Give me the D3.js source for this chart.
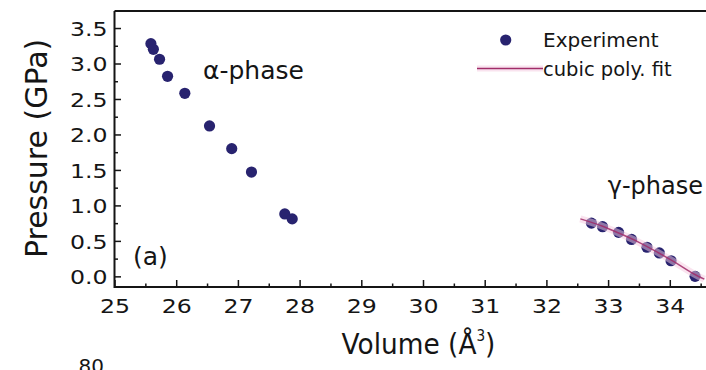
<!DOCTYPE html>
<html>
<head>
<meta charset="utf-8">
<script src="https://cdn.jsdelivr.net/npm/d3@7"></script>
<style>
  html, body { margin: 0; padding: 0; background: #fff; }
  svg { display: block; font-family: "DejaVu Sans", sans-serif; }
</style>
</head>
<body>
<svg id="chart" width="706" height="370"></svg>
<script>
// α-phase measurements: volume (Å^3) and pressure (GPa)
const alphaVolume   = [25.59, 25.63, 25.73, 25.86, 26.14, 26.54, 26.90, 27.22, 27.76, 27.88];
const alphaPressure = [3.28, 3.20, 3.06, 2.82, 2.58, 2.12, 1.80, 1.47, 0.88, 0.81];

// γ-phase measurements
const gammaVolume   = [32.73, 32.91, 33.17, 33.38, 33.63, 33.83, 34.02, 34.41];
const gammaPressure = [0.75, 0.70, 0.62, 0.52, 0.41, 0.33, 0.22, 0.00];

// cubic polynomial fit through the γ-phase data
const fitVolume   = [32.55, 32.90, 33.20, 33.50, 33.80, 34.10, 34.40, 34.56];
const fitPressure = [0.81, 0.71, 0.60, 0.48, 0.34, 0.19, 0.03, -0.04];

const xTicks = [25, 26, 27, 28, 29, 30, 31, 32, 33, 34];
const yTicks = [0.0, 0.5, 1.0, 1.5, 2.0, 2.5, 3.0, 3.5];

const markerColor = "#28236f";
const fitColor = "#a02c68";
const inkColor = "#151515";
const FONT = "DejaVu Sans, sans-serif";

const svg = d3.select("#chart");
svg.append("rect").attr("width", 706).attr("height", 370).attr("fill", "#fff");

const plotLeft = 114.5, plotTop = 11, plotBottom = 287;
const x = d3.scaleLinear().domain([25, 34.8]).range([plotLeft, plotLeft + 9.8 * 61.7]);
const y = d3.scaleLinear().domain([-0.15, 3.74]).range([plotBottom, plotTop]);

// inward ticks: majors labelled, minors in between
const xMinor = d3.range(25.5, 35, 1);
const yMinor = d3.range(0.25, 3.75, 0.5);
const tickFontSize = 20, tickStretch = 1.18;

const gx = svg.append("g").attr("transform", `translate(0,${plotBottom})`);
gx.call(d3.axisBottom(x).tickValues(xMinor).tickSize(-3.5).tickFormat(""));
gx.select(".domain").remove();
const gxMaj = svg.append("g").attr("transform", `translate(0,${plotBottom})`)
  .call(d3.axisBottom(x).tickValues(xTicks).tickSize(-7).tickFormat(d3.format("d")));
gxMaj.select(".domain").remove();
gxMaj.selectAll("text")
  .attr("font-size", tickFontSize).attr("font-family", FONT).attr("fill", inkColor)
  .attr("y", 26).attr("dy", 0)
  .attr("transform", `scale(${tickStretch},1)`);

const gy = svg.append("g").attr("transform", `translate(${plotLeft},0)`);
gy.call(d3.axisLeft(y).tickValues(yMinor).tickSize(-3.5).tickFormat(""));
gy.select(".domain").remove();
const gyMaj = svg.append("g").attr("transform", `translate(${plotLeft},0)`)
  .call(d3.axisLeft(y).tickValues(yTicks).tickSize(-6.5).tickFormat(d3.format(".1f")));
gyMaj.select(".domain").remove();
gyMaj.selectAll("text")
  .attr("font-size", tickFontSize).attr("font-family", FONT).attr("fill", inkColor)
  .attr("x", -7 / tickStretch).attr("dy", "0.36em")
  .attr("transform", `scale(${tickStretch},1)`);

svg.selectAll(".tick line").attr("stroke", inkColor).attr("stroke-width", 1.5);

// frame: left, bottom and top borders
svg.append("path")
  .attr("d", `M${plotLeft},${plotTop}H720M${plotLeft},${plotTop}V${plotBottom}H720`)
  .attr("fill", "none").attr("stroke", inkColor).attr("stroke-width", 2);

const plot = svg.append("g");

// markers
const pts = alphaVolume.map((v, i) => [v, alphaPressure[i]])
  .concat(gammaVolume.map((v, i) => [v, gammaPressure[i]]));
plot.selectAll("circle.exp").data(pts).join("circle")
  .attr("class", "exp")
  .attr("cx", d => x(d[0])).attr("cy", d => y(d[1]))
  .attr("r", 5.6).attr("fill", markerColor);

// fit curve drawn over the γ-phase markers
const fitPts = fitVolume.map((v, i) => [v, fitPressure[i]]);
const line = d3.line().x(d => x(d[0])).y(d => y(d[1])).curve(d3.curveMonotoneX);
plot.append("path").attr("d", line(fitPts))
  .attr("fill", "none").attr("stroke", "#f5c9e0").attr("stroke-width", 7).attr("opacity", 0.5);
plot.append("path").attr("d", line(fitPts))
  .attr("fill", "none").attr("stroke", fitColor).attr("stroke-width", 1.5).attr("opacity", 0.85);

// annotations
const txt = (tx, ty, s, size, anchor) => svg.append("text")
  .attr("x", tx).attr("y", ty).attr("font-size", size).attr("font-family", FONT)
  .attr("fill", inkColor).attr("text-anchor", anchor || "start").text(s);

txt(203, 79, "α-phase", 25);
txt(703, 194, "γ-phase", 24, "end");
txt(133, 265, "(a)", 25);

// legend
svg.append("circle").attr("cx", 505.7).attr("cy", 40).attr("r", 5.6).attr("fill", markerColor);
txt(543, 47, "Experiment", 20);
svg.append("line").attr("x1", 477).attr("x2", 543).attr("y1", 68.5).attr("y2", 68.5)
  .attr("stroke", "#f5c9e0").attr("stroke-width", 6).attr("opacity", 0.5);
svg.append("line").attr("x1", 477).attr("x2", 543).attr("y1", 68.5).attr("y2", 68.5)
  .attr("stroke", fitColor).attr("stroke-width", 1.5);
txt(543, 76, "cubic poly. fit", 19.5);

// axis titles
svg.append("text")
  .attr("transform", "translate(46.5,148.4) rotate(-90)")
  .attr("text-anchor", "middle").attr("font-size", 30).attr("font-family", FONT)
  .attr("fill", inkColor)
  .text("Pressure (GPa)");

const vt = svg.append("text")
  .attr("transform", "translate(418.5,354) scale(0.91,1)")
  .attr("text-anchor", "middle").attr("font-size", 29).attr("font-family", FONT)
  .attr("fill", inkColor);
vt.append("tspan").text("Volume (Å");
vt.append("tspan").attr("font-size", 15).attr("dy", -13).text("3");
vt.append("tspan").attr("dy", 13).text(")");

// top of the next panel's first axis label
txt(104, 373, "80", 20, "end");
</script>
</body>
</html>
